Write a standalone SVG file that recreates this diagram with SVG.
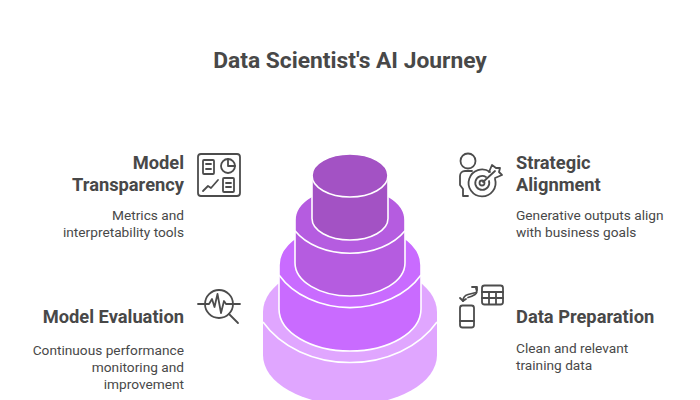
<svg xmlns="http://www.w3.org/2000/svg" width="700" height="400" viewBox="0 0 700 400">
<style>
text{font-family:"Roboto","Liberation Sans",sans-serif}
.t{font-size:22.800px;font-weight:700;fill:#484848}
.h{font-size:18.300px;font-weight:700;fill:#484848}
.d{font-size:13.700px;fill:#484848}
.e{text-anchor:end}
.i{fill:none;stroke:#4c4c4c;stroke-width:1.800;stroke-linecap:round;stroke-linejoin:round}
.w{stroke:#fff;stroke-width:1.600}
</style>
<rect width="700" height="400" fill="#fff"/>
<text class="t" x="350" y="68" text-anchor="middle">Data Scientist's AI Journey</text>
<g id="tier-data-preparation">
<path fill="#e0a6ff" d="M263 312A87 50 0 0 1 437 312V355A87 50 0 0 1 263 355Z"/>
<path d="M263 322A100 80 0 0 0 437 322" fill="none" class="w"/>
</g>
<g id="tier-model-evaluation">
<path class="w" fill="#c96bff" d="M279 265A71 42 0 0 1 421 265V309A71 42 0 0 1 279 309Z"/>
<path d="M279 275A81.500 64 0 0 0 421 275" fill="none" class="w"/>
</g>
<g id="tier-strategic-alignment">
<path class="w" fill="#b55ce0" d="M295 220A55 33 0 0 1 405 220V263A55 33 0 0 1 295 263Z"/>
<path d="M295 230.700A63 44 0 0 0 405 230.700" fill="none" class="w"/>
</g>
<g id="tier-model-transparency">
<path class="w" fill="#a352c4" d="M312 175.500A38 21.500 0 0 1 388 175.500V218.500A38 21.500 0 0 1 312 218.500Z"/>
<path d="M312 175.500A38 21.500 0 0 0 388 175.500" fill="none" class="w"/>
</g>
<g id="node-model-transparency">
<text class="h e" x="184" y="169">Model</text>
<text class="h e" x="184" y="191">Transparency</text>
<text class="d e" x="184" y="220">Metrics and</text>
<text class="d e" x="184" y="237">interpretability tools</text>
<g class="i">
<rect x="198" y="154" width="42" height="42" rx="3"/>
<rect x="203" y="160" width="11" height="14" rx="1"/>
<path d="M206 164h5M206 169h5"/>
<circle cx="228" cy="166" r="7"/>
<path d="M228 159v7h7"/>
<path d="M203 191l5-5 3 2 7-8"/>
<rect x="223" y="178" width="11" height="14" rx="1"/>
<path d="M226 183h5M226 187h5"/>
</g>
</g>
<g id="node-strategic-alignment">
<text class="h" x="516" y="169">Strategic</text>
<text class="h" x="516" y="191">Alignment</text>
<text class="d" x="516" y="220">Generative outputs align</text>
<text class="d" x="516" y="237">with business goals</text>
<g class="i">
<circle cx="468" cy="161" r="7.500"/>
<path d="M472 171h-7a5 5 0 0 0-5 5v9l3 4v7h5"/>
<path d="M490 172a13.500 13.500 0 1 0 5 7"/>
<path d="M486 177a7 7 0 1 0 3 4"/>
<circle cx="482" cy="183" r="2.500"/>
<path d="M483 182l12-11"/>
<path d="M489 172l3-7 4 3 4 0-1 4 3 3-7 3"/>
</g>
</g>
<g id="node-model-evaluation">
<text class="h e" x="184" y="323">Model Evaluation</text>
<text class="d e" x="184" y="355">Continuous performance</text>
<text class="d e" x="184" y="372">monitoring and</text>
<text class="d e" x="184" y="389">improvement</text>
<g class="i">
<circle cx="219" cy="304" r="14"/>
<path d="M198 304h11l3-5 2.500 8 3-13 3.500 19 3-12 2 3h14"/>
<path d="M229 314l9 9"/>
</g>
</g>
<g id="node-data-preparation">
<text class="h" x="516" y="323">Data Preparation</text>
<text class="d" x="516" y="353">Clean and relevant</text>
<text class="d" x="516" y="370">training data</text>
<g class="i">
<rect x="482" y="285.500" width="21" height="19" rx="2.500"/>
<path d="M482 292h21M482 298h21M489 292v12M496 292v12"/>
<rect x="460" y="305.500" width="14" height="22" rx="2.500"/>
<path d="M460 321h14"/>
<path d="M463 301q0-5 5-6.500l8-2"/>
<path d="M476 288.500q2 4-1 6q-3 2-7 3"/>
<path d="M472 287l5 0 0 3M460 298l3 3 3-2"/>
</g>
</g>
</svg>
